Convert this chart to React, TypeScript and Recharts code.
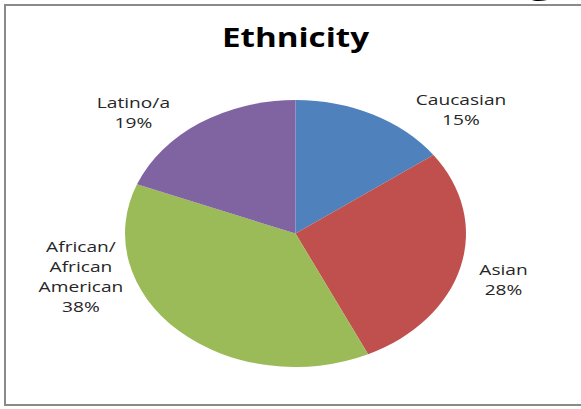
import React from 'react';
import { PieChart, Pie, Cell } from 'recharts';

const title = 'Ethnicity';
const categories = ['Caucasian', 'Asian', 'African/ African American', 'Latino/a'];
const categoryLines = [['Caucasian'], ['Asian'], ['African/', 'African', 'American'], ['Latino/a']];
const values = [15, 28, 38, 19];
const colors = ['#4F81BD', '#C0504D', '#9BBB59', '#8064A2'];

const data = categories.map((name, i) => ({ name, value: values[i] }));

// layout
const W = 581;
const H = 409;
const SX = 1.277; // the original picture is stretched horizontally
const IW = W / SX;
const CX = 295.5 / SX;
const CY = 233.5;
const R = 133.5;
const FONT = '"Open Sans", sans-serif';
// label anchors: centre x, first baseline (unstretched coords)
const LABEL_ANCHORS = [
  [361, 105],
  [394.3, 275],
  [63.4, 251.7],
  [104.5, 108.3],
];
const LINE_H = 20;

const renderLabel = (props: any) => {
  const { index, percent } = props;
  const [x, y] = LABEL_ANCHORS[index];
  const lines = [...categoryLines[index], `${Math.round(percent * 100)}%`];
  return (
    <text
      key={`lbl-${index}`}
      x={x}
      y={y}
      textAnchor="middle"
      fontFamily={FONT}
      fontSize={15}
      fill="#262626"
    >
      {lines.map((l, i) => (
        <tspan key={i} x={x} dy={i === 0 ? 0 : LINE_H}>
          {l}
        </tspan>
      ))}
    </text>
  );
};

export default function App() {
  return (
    <div
      style={{
        position: 'absolute',
        left: 0,
        top: 0,
        width: W,
        height: H,
        overflow: 'hidden',
        background: '#ffffff',
      }}
    >
      <div
        style={{
          position: 'absolute',
          left: 4,
          top: 4,
          width: 640,
          height: 402,
          border: '2px solid #8a8a8a',
          boxSizing: 'border-box',
        }}
      />
      <svg
        width={W}
        height={H}
        style={{ position: 'absolute', left: 0, top: 0 }}
      >
        <text x={541} y={-13} textAnchor="middle" fontFamily={FONT} fontSize={58} fill="#000">
          g
        </text>
      </svg>
      <div
        style={{
          position: 'absolute',
          left: 0,
          top: 0,
          width: IW,
          height: H,
          transform: `scaleX(${SX})`,
          transformOrigin: '0 0',
        }}
      >
        <PieChart width={IW} height={H} margin={{ top: 0, right: 0, bottom: 0, left: 0 }}>
          <Pie
            data={data}
            dataKey="value"
            nameKey="name"
            cx={CX}
            cy={CY}
            outerRadius={R}
            startAngle={90}
            endAngle={-270}
            stroke="none"
            label={renderLabel}
            labelLine={false}
            isAnimationActive={false}
          >
            {data.map((d, i) => (
              <Cell key={d.name} fill={colors[i]} />
            ))}
          </Pie>
        </PieChart>
        <svg
          width={IW}
          height={H}
          style={{ position: 'absolute', left: 0, top: 0, pointerEvents: 'none' }}
        >
          <text
            x={CX}
            y={47}
            textAnchor="middle"
            fontFamily={FONT}
            fontWeight={700}
            fontSize={26}
            fill="#000"
          >
            {title}
          </text>
        </svg>
      </div>
    </div>
  );
}
